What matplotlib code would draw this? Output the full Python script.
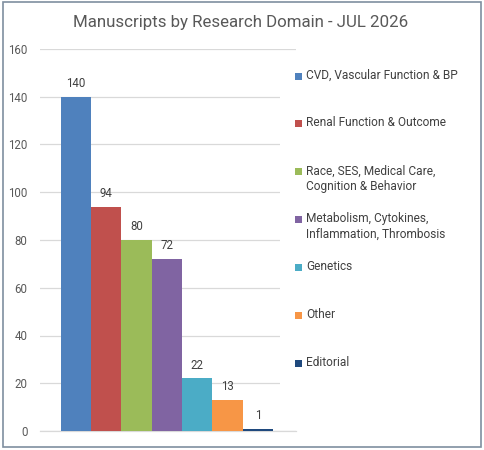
import matplotlib
matplotlib.use("Agg")
import matplotlib.pyplot as plt
from matplotlib.patches import Rectangle

plt.rcParams['font.family'] = ['Roboto', 'DejaVu Sans']

title = "Manuscripts by Research Domain - JUL 2026"
categories = [
    "CVD, Vascular Function & BP",
    "Renal Function & Outcome",
    "Race, SES, Medical Care,\nCognition & Behavior",
    "Metabolism, Cytokines,\nInflammation, Thrombosis",
    "Genetics",
    "Other",
    "Editorial",
]
values = [140, 94, 80, 72, 22, 13, 1]
colors = ["#4F81BD", "#C0504D", "#9BBB59", "#8064A2", "#4BACC6", "#F79646", "#1F497D"]
yticks = [0, 20, 40, 60, 80, 100, 120, 140, 160]

W, H = 484, 450
fig = plt.figure(figsize=(W / 100, H / 100), dpi=100)
ax = fig.add_axes([40 / W, 1 - 431 / H, (296 - 40) / W, (431 - 49) / H])

x = list(range(len(values)))
ax.bar(x, values, width=1.0, color=colors, zorder=3)
for xi, v in zip(x, values):
    ax.annotate(str(v), (xi, v), xytext=(0, 5), textcoords="offset points",
                ha="center", va="bottom", fontsize=8.3, color="#404040")

ax.set_xlim(-0.5 - 0.69, 6.5 + 0.76)
ax.set_ylim(0, 160)
ax.set_yticks(yticks)
ax.set_xticks([])
ax.tick_params(axis="y", length=0, pad=9, labelsize=8.3, labelcolor="#595959")
ax.grid(axis="y", color="#D9D9D9", linewidth=0.9, zorder=0)
for s in ["top", "right", "left"]:
    ax.spines[s].set_visible(False)
ax.spines["bottom"].set_color("#D9D9D9")
ax.spines["bottom"].set_linewidth(0.9)

fig.text(241 / W, 1 - 22 / H, title, ha="center", va="center", fontsize=12.2, color="#595959")

# legend (white box over gridlines)
fig.patches.append(Rectangle((280 / W, 1 - 425 / H), (478 - 280) / W, (425 - 56) / H,
                             transform=fig.transFigure, facecolor="white", edgecolor="none", zorder=5))
for i, (lab, col) in enumerate(zip(categories, colors)):
    yc = 76 + i * 47.9
    fig.patches.append(Rectangle((295 / W, 1 - (yc + 3.5) / H), 7 / W, 7 / H,
                                 transform=fig.transFigure, facecolor=col, edgecolor="none", zorder=6))
    fig.text(306 / W, 1 - (yc - 7.5) / H, lab, ha="left", va="top", fontsize=8.6,
             color="#404040", linespacing=1.3, zorder=7)

# chart border
fig.patches.append(Rectangle((3 / W, 1 - 447 / H), (481 - 3) / W, (447 - 1.5) / H,
                             transform=fig.transFigure, facecolor="none", edgecolor="#7F8FA0",
                             linewidth=1.2, zorder=8))

fig.savefig("out.png", dpi=100)
